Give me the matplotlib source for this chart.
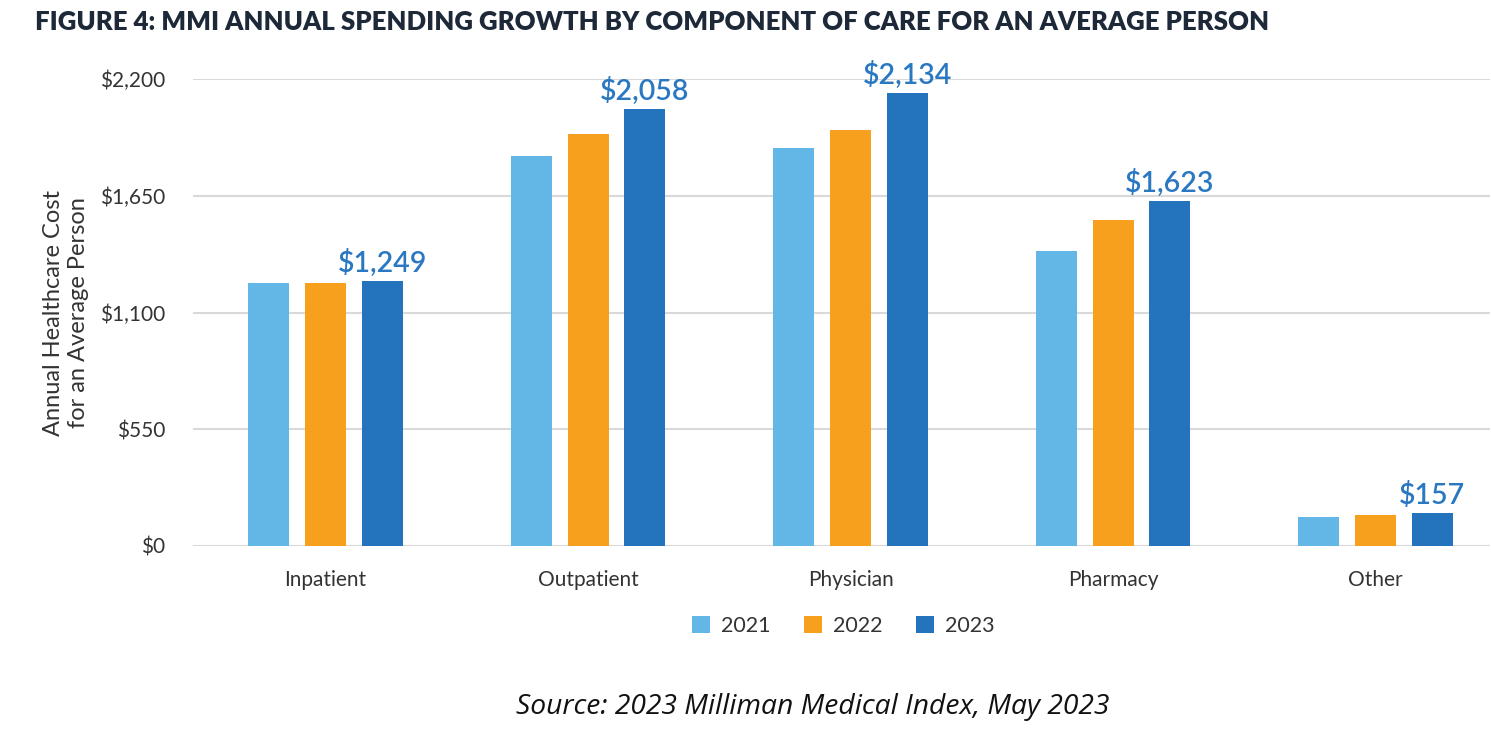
import matplotlib
matplotlib.use("Agg")
import matplotlib.pyplot as plt
import numpy as np
from matplotlib.patches import Patch

categories = ["Inpatient", "Outpatient", "Physician", "Pharmacy", "Other"]
years = ["2021", "2022", "2023"]
values_2021 = [1241, 1837, 1873, 1392, 136]
values_2022 = [1237, 1942, 1959, 1537, 146]
values_2023 = [1249, 2058, 2134, 1623, 157]
label_2023 = ["$1,249", "$2,058", "$2,134", "$1,623", "$157"]
yticks = [0, 550, 1100, 1650, 2200]
ytick_labels = ["$0", "$550", "$1,100", "$1,650", "$2,200"]

colors = ["#63b7e6", "#f7a01d", "#2374bd"]
label_color = "#2b78c2"
text_color = "#333333"

plt.rcParams['font.family'] = ['Lato', 'DejaVu Sans']

fig = plt.figure(figsize=(14.91, 7.37), dpi=100)
ax = fig.add_axes([193/1491, 1 - 546/737, (1490-193)/1491, (546-79)/737])

x = np.arange(len(categories))
width = 0.156
offset = 0.216
series = [values_2021, values_2022, values_2023]
for i, (vals, c) in enumerate(zip(series, colors)):
    ax.bar(x + (i - 1) * offset, vals, width, color=c, zorder=3, linewidth=0)

for xi, v, lab in zip(x, values_2023, label_2023):
    ax.annotate(lab, (xi + offset, v), xytext=(0, 3), textcoords="offset points",
                ha="center", va="bottom", fontsize=20.5, color=label_color,
                fontweight="semibold", clip_on=False)

ax.set_xlim(-0.505, 4.436)
ax.set_ylim(0, 2200)
ax.set_yticks(yticks)
ax.set_yticklabels(ytick_labels, fontsize=15, color=text_color)
ax.set_xticks(x)
ax.set_xticklabels(categories, fontsize=15, color=text_color)
ax.tick_params(axis="both", length=0)
ax.tick_params(axis="y", pad=20)
ax.tick_params(axis="x", pad=17)
ax.grid(axis="y", color="#d9d9d9", linewidth=1.5, zorder=0)
for s in ax.spines.values():
    s.set_visible(False)
ax.set_axisbelow(True)

ax.set_ylabel("Annual Healthcare Cost\nfor an Average Person", fontsize=17,
              color=text_color, labelpad=8, linespacing=1.2)

handles = [Patch(facecolor=c, edgecolor="none") for c in colors]
fig.legend(handles, years, loc="center", bbox_to_anchor=(843/1491, 1 - 626/737),
           ncol=3, frameon=False, fontsize=15.5, handlelength=0.85, handleheight=0.85,
           columnspacing=1.55, handletextpad=0.5, labelcolor=text_color)

fig.text(35/1491, 1 - 22/737,
         "FIGURE 4: MMI ANNUAL SPENDING GROWTH BY COMPONENT OF CARE FOR AN AVERAGE PERSON",
         fontsize=18.5, fontweight="heavy", color="#1d2939", ha="left", va="center")

fig.text(813/1491, 1 - 707/737, "Source: 2023 Milliman Medical Index, May 2023",
         fontsize=20.3, style="italic", color="#111111", ha="center", va="center",
         family=["Open Sans", "DejaVu Sans"])

fig.savefig("out.png", dpi=100)
